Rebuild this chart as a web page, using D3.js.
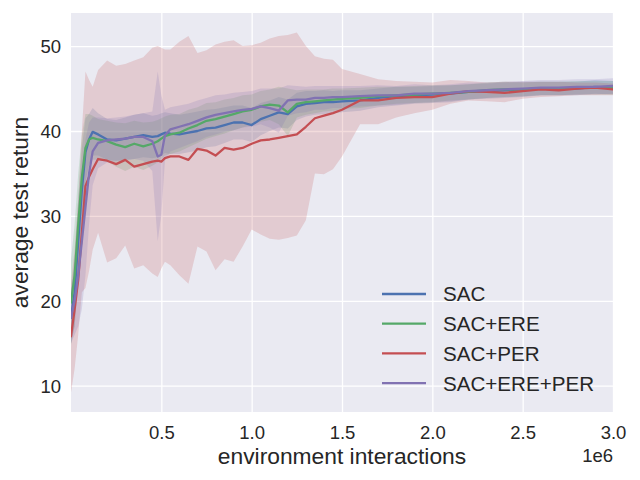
<!DOCTYPE html>
<html><head><meta charset="utf-8">
<script src="https://cdn.jsdelivr.net/npm/d3@7"></script>
<style>body{margin:0;background:#fff;} svg{display:block;font-family:"Liberation Sans",Arial,sans-serif;}</style>
</head><body>
<svg id="c" width="640" height="480"></svg>
<script>
// x values in units of 1e6 environment interactions
const steps = [0, 0.02, 0.04, 0.06, 0.08, 0.1, 0.12,
  0.15, 0.2, 0.25, 0.3, 0.35, 0.4, 0.45,
  0.48, 0.5, 0.52, 0.55,
  0.6, 0.65, 0.7, 0.75, 0.8, 0.85, 0.9, 0.95, 1.0, 1.05, 1.1, 1.15, 1.2, 1.25, 1.3, 1.35, 1.4, 1.45, 1.5,
  1.6, 1.7, 1.8, 1.9, 2.0, 2.1, 2.2, 2.3, 2.4, 2.5, 2.6, 2.7, 2.8, 2.9, 3.0];

const sacMean = [18.0, 21.0, 27.0, 33.0, 37.5, 39.0, 39.9,
  39.6, 39.0, 38.9, 39.1, 39.3, 39.5, 39.3,
  39.4, 39.6, 39.8, 39.7,
  39.6, 39.8, 40.0, 40.3, 40.4, 40.7, 41.0, 41.0, 40.7, 41.4, 41.8, 42.2, 42.0, 42.9, 43.2, 43.3, 43.4, 43.4, 43.5,
  43.6, 43.9, 44.1, 44.2, 44.3, 44.4, 44.6, 44.7, 44.8, 44.9, 45.0, 45.0, 45.0, 45.2, 45.1];
const sacStd = [3.0, 4.0, 5.0, 5.0, 4.0, 3.0, 2.8,
  2.5, 2.4, 2.4, 2.5, 2.6, 2.6, 2.5,
  2.5, 2.5, 2.4, 2.4,
  2.3, 2.3, 2.3, 2.2, 2.2, 2.1, 2.0, 2.0, 2.0, 1.9, 1.8, 1.8, 1.7, 1.6, 1.5, 1.4, 1.4, 1.3, 1.3,
  1.2, 1.1, 1.1, 1.0, 1.0, 1.0, 0.9, 0.9, 0.9, 0.9, 0.8, 0.8, 0.8, 0.8, 0.8];

const ereMean = [19.8, 23.0, 29.0, 34.5, 38.0, 39.0, 39.2,
  39.0, 38.8, 38.4, 38.1, 38.5, 38.2, 38.5,
  38.8, 39.1, 39.4, 39.6,
  39.8, 40.3, 40.7, 41.2, 41.4, 41.7, 42.0, 42.3, 42.5, 42.9, 43.1, 43.0, 42.2, 43.2, 43.4, 43.5, 43.6, 43.7, 43.8,
  43.9, 44.1, 44.2, 44.3, 44.4, 44.5, 44.6, 44.8, 44.9, 44.9, 45.0, 45.0, 45.1, 45.1, 45.1];
const ereStd = [5.0, 6.0, 6.0, 5.0, 4.0, 3.0, 2.6,
  2.4, 2.4, 2.6, 2.8, 2.7, 2.8, 2.6,
  2.5, 2.4, 2.3, 2.3,
  2.2, 2.2, 2.1, 2.1, 2.0, 2.0, 1.9, 1.9, 1.8, 1.8, 1.8, 2.2, 2.8, 1.6, 1.5, 1.4, 1.3, 1.3, 1.2,
  1.2, 1.1, 1.0, 1.0, 1.0, 0.9, 0.9, 0.9, 0.9, 0.8, 0.8, 0.8, 0.8, 0.8, 0.8];

const perMean = [15.8, 19.0, 22.5, 28.0, 33.5, 34.6, 35.5,
  36.7, 36.5, 36.1, 36.6, 35.8, 36.1, 36.4,
  36.5, 36.4, 36.8, 37.0,
  37.0, 36.6, 37.9, 37.7, 37.1, 38.0, 37.8, 38.0, 38.5, 38.9, 39.0, 39.2, 39.4, 39.6, 40.5, 41.5, 41.8, 42.1, 42.5,
  43.6, 43.6, 43.9, 44.0, 44.0, 44.4, 44.7, 44.6, 44.5, 44.7, 44.9, 44.8, 45.0, 45.1, 44.9];
const perLow = [9.2, 12.0, 16.0, 21.0, 21.5, 23.5, 26.0,
  28.0, 24.5, 25.0, 26.5, 23.8, 24.2, 23.2,
  22.8, 23.8, 24.6, 24.2,
  23.0, 22.0, 26.4, 25.8, 23.6, 24.9, 24.6, 26.4, 28.4, 27.8, 27.3, 27.2, 27.4, 27.7, 29.5, 35.0, 34.9, 35.5, 37.0,
  40.8, 40.8, 41.6, 42.1, 42.5, 43.2, 43.6, 43.5, 43.4, 43.8, 44.0, 44.1, 44.2, 44.2, 44.2];
const perHigh = [22.0, 26.0, 32.0, 40.0, 47.0, 46.0, 45.2,
  47.2, 48.3, 47.7, 47.9, 48.3, 48.7, 49.8,
  50.0, 49.8, 49.6, 49.6,
  50.5, 51.2, 49.2, 49.5, 50.2, 50.5, 50.7, 50.0, 50.1, 50.4, 50.9, 51.2, 51.3, 51.6, 50.0, 48.8, 48.5, 48.4, 47.3,
  46.7, 46.1, 45.9, 45.8, 45.7, 46.0, 45.9, 45.7, 45.8, 45.8, 45.8, 45.8, 45.7, 45.7, 45.6];

const bothMean = [18.0, 20.0, 23.0, 27.0, 31.0, 35.0, 37.6,
  38.6, 38.9, 39.0, 39.1, 39.3, 39.3, 38.8,
  37.0, 37.2, 39.5, 40.2,
  40.5, 40.8, 41.2, 41.6, 41.9, 42.1, 42.3, 42.5, 42.6, 42.9, 42.7, 42.4, 43.6, 43.7, 43.7, 43.9, 43.9, 44.0, 44.0,
  44.1, 44.2, 44.2, 44.4, 44.4, 44.5, 44.7, 44.8, 44.9, 45.0, 45.1, 45.1, 45.2, 45.2, 45.3];
const bothStd = [3.0, 4.0, 6.0, 8.0, 8.0, 6.0, 4.0,
  3.0, 2.6, 2.6, 2.6, 2.6, 2.8, 3.5,
  10.0, 7.0, 3.0, 2.6,
  2.5, 2.4, 2.4, 2.3, 2.3, 2.2, 2.2, 2.1, 2.1, 2.1, 2.3, 2.6, 1.8, 1.6, 1.5, 1.4, 1.4, 1.3, 1.3,
  1.2, 1.2, 1.1, 1.1, 1.0, 1.0, 1.0, 0.9, 0.9, 0.9, 0.9, 0.9, 0.9, 0.9, 0.9];

const seriesNames = ["SAC", "SAC+ERE", "SAC+PER", "SAC+ERE+PER"];
const seriesColors = ["#4C72B0", "#55A868", "#C44E52", "#8172B2"];
const xTicks = [0.5, 1.0, 1.5, 2.0, 2.5, 3.0];
const yTicks = [10, 20, 30, 40, 50];

const series = [
  {mean: sacMean, lo: sacMean.map((m,i)=>m - sacStd[i]), hi: sacMean.map((m,i)=>m + sacStd[i])},
  {mean: ereMean, lo: ereMean.map((m,i)=>m - ereStd[i]), hi: ereMean.map((m,i)=>m + ereStd[i])},
  {mean: perMean, lo: perLow, hi: perHigh},
  {mean: bothMean, lo: bothMean.map((m,i)=>m - bothStd[i]), hi: bothMean.map((m,i)=>m + bothStd[i])}
];

const svg = d3.select("#c");
const L = 71, R = 613, T = 13, B = 412;
const x = d3.scaleLinear().domain([0, 3.0]).range([L, R]);
const y = d3.scaleLinear().domain([6.9, 53.9]).range([B, T]);
const txt = "#262626";

svg.append("rect").attr("x", L).attr("y", T).attr("width", R - L).attr("height", B - T).attr("fill", "#EAEAF2");

svg.append("clipPath").attr("id", "pc").append("rect")
  .attr("x", L).attr("y", T).attr("width", R - L).attr("height", B - T);

// grid
const gx = svg.append("g").attr("transform", `translate(0,${B})`)
  .call(d3.axisBottom(x).tickValues(xTicks).tickSize(-(B - T)).tickFormat(d3.format(".1f")));
const gy = svg.append("g").attr("transform", `translate(${L},0)`)
  .call(d3.axisLeft(y).tickValues(yTicks).tickSize(-(R - L)).tickFormat(d3.format("d")));
[gx, gy].forEach(g => {
  g.select(".domain").remove();
  g.selectAll(".tick line").attr("stroke", "#fff").attr("stroke-width", 1.3);
  g.selectAll(".tick text").attr("fill", txt).attr("font-size", 18.5).attr("font-family", "Liberation Sans, Arial, sans-serif");
});
gx.selectAll(".tick text").attr("y", 14).attr("dy", "0.71em");
gy.selectAll(".tick text").attr("x", -10).attr("dy", "0.35em");

const plot = svg.append("g").attr("clip-path", "url(#pc)");

series.forEach((s, k) => {
  const area = d3.area().x((d, i) => x(steps[i])).y0((d, i) => y(s.lo[i])).y1((d, i) => y(s.hi[i]));
  plot.append("path").datum(s.mean).attr("d", area)
    .attr("fill", seriesColors[k]).attr("fill-opacity", 0.2).attr("stroke", "none");
});
series.forEach((s, k) => {
  const line = d3.line().x((d, i) => x(steps[i])).y(d => y(d));
  plot.append("path").datum(s.mean).attr("d", line)
    .attr("fill", "none").attr("stroke", seriesColors[k]).attr("stroke-width", 2.3)
    .attr("stroke-linejoin", "round").attr("stroke-linecap", "round");
});

// labels
svg.append("text").attr("x", (L + R) / 2).attr("y", 464).attr("text-anchor", "middle")
  .attr("font-size", 22.8).attr("fill", txt).text("environment interactions");
svg.append("text").attr("transform", `translate(28,${(T + B) / 2}) rotate(-90)`).attr("text-anchor", "middle")
  .attr("font-size", 22.8).attr("fill", txt).text("average test return");
svg.append("text").attr("x", R).attr("y", 462).attr("text-anchor", "end")
  .attr("font-size", 18.5).attr("fill", txt).text("1e6");

// legend
const lg = svg.append("g");
seriesNames.forEach((n, k) => {
  const cy = 294 + k * 29.7;
  lg.append("line").attr("x1", 382).attr("x2", 426).attr("y1", cy).attr("y2", cy)
    .attr("stroke", seriesColors[k]).attr("stroke-width", 2.3);
  lg.append("text").attr("x", 443).attr("y", cy).attr("dy", "0.36em")
    .attr("font-size", 20.6).attr("fill", txt).text(n);
});
</script>
</body></html>
